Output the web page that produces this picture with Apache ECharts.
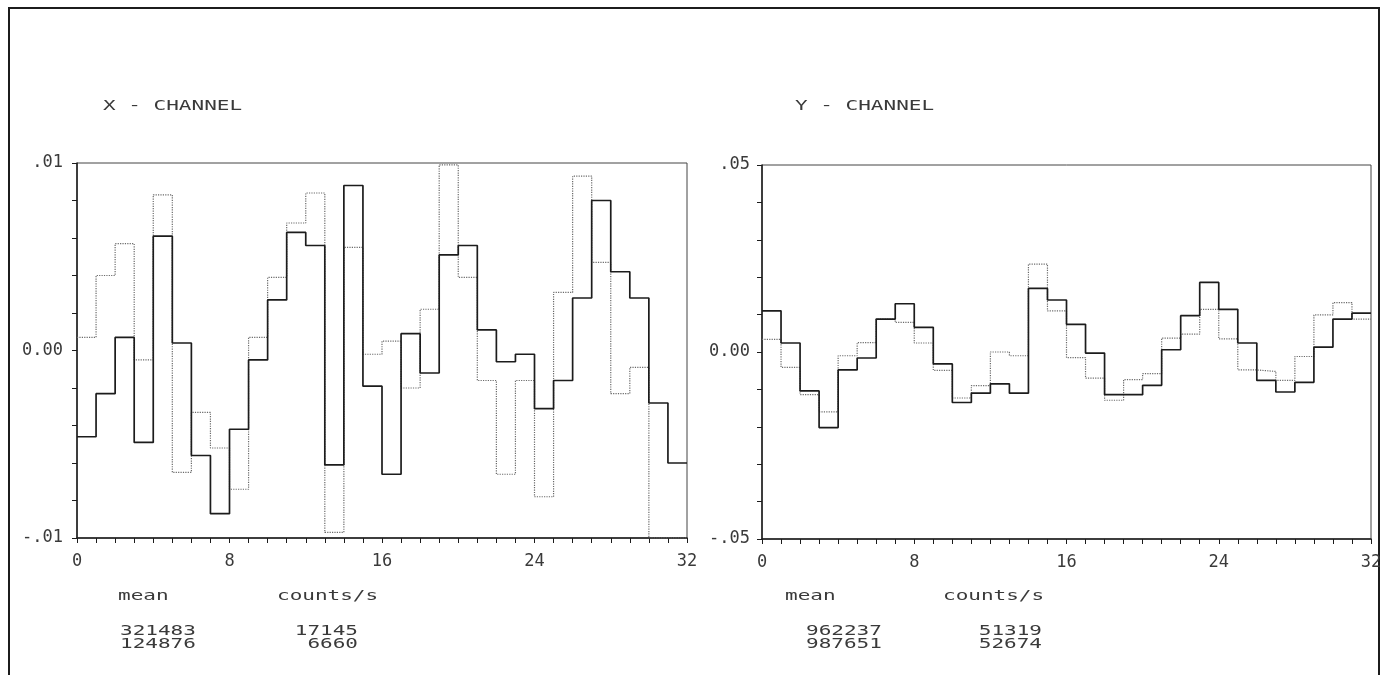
<!DOCTYPE html>
<html>
<head>
<meta charset="utf-8">
<script src="https://cdn.jsdelivr.net/npm/echarts@6/dist/echarts.min.js"></script>
<style>
html, body { margin: 0; padding: 0; background: #fff; }
#container { width: 1388px; height: 675px; }
</style>
</head>
<body>
<div id="container"></div>
<script>
// bin values, 32 bins per channel
var xSolid = [-0.0046, -0.0023, 0.0007, -0.0049, 0.0061, 0.0004, -0.0056, -0.0087,
    -0.0042, -0.0005, 0.0027, 0.0063, 0.0056, -0.0061, 0.0088, -0.0019,
    -0.0066, 0.0009, -0.0012, 0.0051, 0.0056, 0.0011, -0.0006, -0.0002,
    -0.0031, -0.0016, 0.0028, 0.0080, 0.0042, 0.0028, -0.0028, -0.0060];
var xDotted = [0.0007, 0.0040, 0.0057, -0.0005, 0.0083, -0.0065, -0.0033, -0.0052,
    -0.0074, 0.0007, 0.0039, 0.0068, 0.0084, -0.0097, 0.0055, -0.0002,
    0.0005, -0.0020, 0.0022, 0.0099, 0.0039, -0.0016, -0.0066, -0.0016,
    -0.0078, 0.0031, 0.0093, 0.0047, -0.0023, -0.0009, -0.0100, -0.0100];
var ySolid = [0.0110, 0.0024, -0.0104, -0.0202, -0.0048, -0.0016, 0.0088, 0.0129,
    0.0066, -0.0032, -0.0135, -0.0110, -0.0085, -0.0110, 0.0170, 0.0139,
    0.0074, -0.0003, -0.0114, -0.0114, -0.0089, 0.0006, 0.0097, 0.0186,
    0.0114, 0.0024, -0.0076, -0.0107, -0.0081, 0.0013, 0.0088, 0.0104];
var yDotted = [0.0034, -0.0041, -0.0114, -0.0160, -0.0010, 0.0025, 0.0088, 0.0079,
    0.0024, -0.0049, -0.0123, -0.0090, 0.0000, -0.0010, 0.0235, 0.0110,
    -0.0015, -0.0070, -0.0129, -0.0074, -0.0058, 0.0037, 0.0048, 0.0114,
    0.0035, -0.0048, -0.0052, -0.0076, -0.0012, 0.0099, 0.0132, 0.0088];

var xTicks = [0, 32, 8];          // min, max, label step
var xRange = [-0.01, 0.01, 0.01];
var yRange = [-0.05, 0.05, 0.05];

var xMean = ['321483', '124876'];
var xCounts = ['17145', '6660'];
var yMean = ['962237', '987651'];
var yCounts = ['51319', '52674'];

var MONO = '"DejaVu Sans Mono", "Liberation Mono", monospace';
var INK = '#1c1c1c';
var TXT = '#3a3a3a';

function steps(vals) {
    var d = [];
    for (var i = 0; i < vals.length; i++) {
        d.push([i, vals[i]]);
    }
    d.push([vals.length, vals[vals.length - 1]]);
    return d;
}

function fmtY(v) {
    if (Math.abs(v) < 1e-9) return '0.00';
    var s = Math.abs(v).toFixed(2).replace(/^0/, '');
    return (v < 0 ? '-' : '') + s;
}

function xAxisOf(idx) {
    return {
        type: 'value', gridIndex: idx,
        min: xTicks[0], max: xTicks[1], interval: xTicks[2],
        axisLine: { show: true, onZero: false, lineStyle: { color: INK, width: 1.5 } },
        axisTick: { show: true, length: 5, lineStyle: { color: INK } },
        minorTick: { show: true, splitNumber: 8, length: 5, lineStyle: { color: INK } },
        splitLine: { show: false },
        axisLabel: { color: TXT, fontFamily: MONO, fontSize: 17, margin: 15 }
    };
}

function yAxisOf(idx, r, margin) {
    return {
        type: 'value', gridIndex: idx,
        min: r[0], max: r[1], interval: r[2],
        axisLine: { show: true, onZero: false, lineStyle: { color: INK, width: 1.5 } },
        axisTick: { show: true, length: 5, lineStyle: { color: INK } },
        minorTick: { show: true, splitNumber: 5, length: 5, lineStyle: { color: INK } },
        splitLine: { show: false },
        axisLabel: { color: TXT, fontFamily: MONO, fontSize: 17, margin: margin, formatter: fmtY }
    };
}

function stepSeries(idx, vals, dotted) {
    return {
        type: 'line', xAxisIndex: idx, yAxisIndex: idx,
        step: 'end', data: steps(vals),
        showSymbol: false, symbol: 'none', silent: true,
        lineStyle: dotted
            ? { color: '#6a6a6a', width: 1.2, type: 'dotted' }
            : { color: INK, width: 1.7 },
        z: dotted ? 2 : 3
    };
}

function label(x, y, text, align) {
    return {
        type: 'text', x: x, y: y, scaleX: 1.5,
        style: {
            text: text, fill: TXT, align: align || 'left', verticalAlign: 'middle',
            font: '14px ' + MONO
        }
    };
}

var dom = document.getElementById('container');
var myChart = echarts.init(dom, null, { renderer: 'canvas' });

var option = {
    animation: false,
    backgroundColor: '#fff',
    grid: [
        { left: 77, top: 163, width: 610, height: 375, show: true, borderColor: '#444', borderWidth: 1 },
        { left: 762, top: 165, width: 609, height: 374, show: true, borderColor: '#444', borderWidth: 1 }
    ],
    xAxis: [xAxisOf(0), xAxisOf(1)],
    yAxis: [yAxisOf(0, xRange, 14), yAxisOf(1, yRange, 12)],
    series: [
        stepSeries(0, xDotted, true),
        stepSeries(0, xSolid, false),
        stepSeries(1, yDotted, true),
        stepSeries(1, ySolid, false)
    ],
    graphic: [
        {
            type: 'polyline', silent: true,
            shape: { points: [[9, 690], [9, 8], [1379, 8], [1379, 690]] },
            style: { stroke: INK, lineWidth: 2, fill: null }
        },
        label(103, 106, 'X - CHANNEL'),
        label(795, 106, 'Y - CHANNEL'),
        label(118, 596, 'mean'),
        label(277, 596, 'counts/s'),
        label(120, 631, xMean[0]),
        label(120, 644, xMean[1]),
        label(358, 631, xCounts[0], 'right'),
        label(358, 644, xCounts[1], 'right'),
        label(785, 596, 'mean'),
        label(943, 596, 'counts/s'),
        label(806, 631, yMean[0]),
        label(806, 644, yMean[1]),
        label(1042, 631, yCounts[0], 'right'),
        label(1042, 644, yCounts[1], 'right')
    ]
};

myChart.setOption(option);
window.addEventListener('resize', myChart.resize);
</script>
</body>
</html>
